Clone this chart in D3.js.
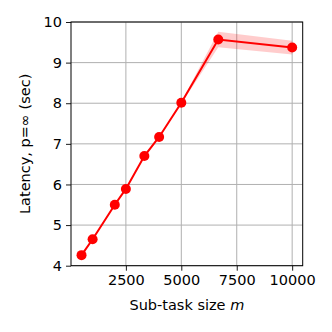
<!DOCTYPE html>
<html><head><meta charset="utf-8">
<script src="https://cdn.jsdelivr.net/npm/d3@7"></script>
<style>body{margin:0;background:#fff}svg{display:block}text{font-family:"DejaVu Sans",sans-serif}</style>
</head><body>
<script>
const sizes = [500, 1000, 2000, 2500, 3333, 4000, 5000, 6667, 10000];
const latency = [4.26, 4.65, 5.50, 5.89, 6.70, 7.17, 8.01, 9.57, 9.37];
const spread = [0.02, 0.02, 0.02, 0.02, 0.02, 0.02, 0.02, 0.19, 0.17];
const xTicks = [2500, 5000, 7500, 10000];
const yTicks = [4, 5, 6, 7, 8, 9, 10];

const W = 332, H = 332;
const m = {l: 71, r: 29.3, t: 22, b: 66.3};
const svg = d3.select("body").append("svg").attr("width", W).attr("height", H);
const x = d3.scaleLinear().domain([25, 10475]).range([m.l, W - m.r]);
const y = d3.scaleLinear().domain([4, 10]).range([H - m.b, m.t]);
const fs = 14.5;

// grid
svg.append("g").selectAll("line").data(xTicks).join("line")
  .attr("x1", d => x(d)).attr("x2", d => x(d)).attr("y1", m.t).attr("y2", H - m.b)
  .attr("stroke", "#b0b0b0").attr("stroke-width", 1);
svg.append("g").selectAll("line").data(yTicks).join("line")
  .attr("y1", d => y(d)).attr("y2", d => y(d)).attr("x1", m.l).attr("x2", W - m.r)
  .attr("stroke", "#b0b0b0").attr("stroke-width", 1);

// band
const area = d3.area().x((d, i) => x(sizes[i]))
  .y0((d, i) => y(latency[i] - spread[i])).y1((d, i) => y(latency[i] + spread[i]));
svg.append("path").datum(latency).attr("d", area).attr("fill", "red").attr("fill-opacity", 0.2);

// line
const line = d3.line().x((d, i) => x(sizes[i])).y(d => y(d));
svg.append("path").datum(latency).attr("d", line).attr("fill", "none")
  .attr("stroke", "red").attr("stroke-width", 2);
svg.append("g").selectAll("circle").data(latency).join("circle")
  .attr("cx", (d, i) => x(sizes[i])).attr("cy", d => y(d)).attr("r", 5).attr("fill", "red");

// axes
const xa = svg.append("g").attr("transform", `translate(0,${H - m.b})`)
  .call(d3.axisBottom(x).tickValues(xTicks).tickFormat(d3.format("d")).tickSize(5).tickPadding(4));
const ya = svg.append("g").attr("transform", `translate(${m.l},0)`)
  .call(d3.axisLeft(y).tickValues(yTicks).tickFormat(d3.format("d")).tickSize(5).tickPadding(4));
[xa, ya].forEach(a => {
  a.select(".domain").remove();
  a.selectAll("line").attr("stroke", "#000").attr("stroke-width", 0.9);
  a.selectAll("text").attr("font-size", fs).attr("fill", "#000")
    .style("font-family", '"DejaVu Sans", sans-serif');
});
svg.append("rect").attr("x", m.l).attr("y", m.t).attr("width", W - m.r - m.l)
  .attr("height", H - m.b - m.t).attr("fill", "none").attr("stroke", "#000").attr("stroke-width", 1);

// labels
const xl = svg.append("text").attr("x", (m.l + W - m.r) / 2).attr("y", 310)
  .attr("text-anchor", "middle").attr("font-size", fs);
xl.append("tspan").text("Sub-task size ");
xl.append("tspan").attr("font-style", "italic").text("m");

svg.append("text").attr("transform", `translate(30,${(m.t + H - m.b) / 2}) rotate(-90)`)
  .attr("text-anchor", "middle").attr("font-size", fs).text("Latency, p=∞ (sec)");
</script>
</body></html>
